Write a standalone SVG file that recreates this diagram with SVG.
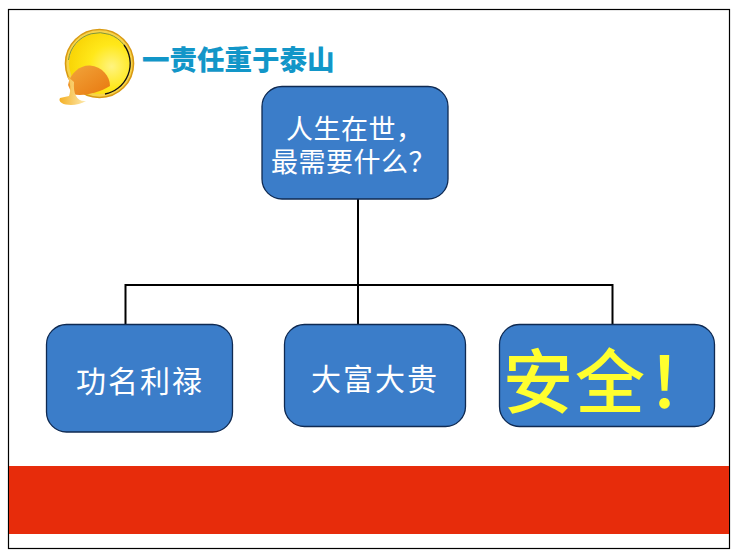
<svg xmlns="http://www.w3.org/2000/svg" width="738" height="558" viewBox="0 0 738 558">
<defs>
<radialGradient id="gold" cx="0.7" cy="0.55" r="0.8"><stop offset="0" stop-color="#fff480"/><stop offset="0.45" stop-color="#ffe81a"/><stop offset="1" stop-color="#f7cf00"/></radialGradient>
<linearGradient id="hat" x1="0" y1="0" x2="1" y2="1"><stop offset="0" stop-color="#f2a63c"/><stop offset="1" stop-color="#e8780f"/></linearGradient>
<linearGradient id="brim" x1="0" y1="0" x2="1" y2="0"><stop offset="0" stop-color="#f4b024"/><stop offset="1" stop-color="#fdeab0"/></linearGradient>
</defs>
<style>
.box{fill:#3b7dc9;stroke:#0f2a52;stroke-width:1.3}
.t{font-family:"Noto Sans CJK SC","Liberation Sans",sans-serif}
.w{fill:#fff}
.s{font-size:27px;letter-spacing:.5px}
.m{font-size:30px;letter-spacing:2px}
.c{fill:none;stroke:#000;stroke-width:2}
</style>
<rect width="738" height="558" fill="#fff"/>
<rect x="8.500" y="9.500" width="721" height="539" fill="#fff" stroke="#000" stroke-width="1.2"/>
<rect id="band" x="9" y="466" width="720" height="68" fill="#e72c0b"/>
<g id="logo">
<circle cx="99.500" cy="63.500" r="34" fill="#f7d34a" stroke="#d99a12" stroke-width="1.6"/>
<circle cx="99.500" cy="63.500" r="30.500" fill="url(#gold)"/>
<path d="M68.500 60A31 31 0 0 1 124 45" fill="none" stroke="#6f8f3a" stroke-width="0.9"/>
<path d="M124 45A31 31 0 0 1 105 94" fill="none" stroke="#111" stroke-width="1.3"/>
<path d="M68 85C70 73 80 65 90 65.500C102 66.500 110 76 110 86C100 92 84 97 72 94Z" fill="url(#hat)"/>
<path d="M67 76C71 82 71 91 69 96L60 98C56 105 75 108 86 101C77 102 73 94 74 82Z" fill="url(#brim)"/>
</g>
<g id="title"><text class="t" x="142" y="70" font-size="27.500" font-weight="900" fill="#1296c8">一责任重于泰山</text></g>
<g id="connectors">
<path class="c" d="M358 199V324M125.500 324V285H612.500V324"/>
</g>
<g id="n1"><rect class="box" x="262" y="86.500" width="186" height="112.500" rx="20"/>
<text class="t w s"><tspan x="286" y="139">人生在世，</tspan><tspan x="271" y="172">最需要什么？</tspan></text></g>
<g id="n2"><rect class="box" x="46.500" y="324.500" width="186" height="107.500" rx="20"/>
<text class="t w m" x="76" y="392">功名利禄</text></g>
<g id="n3"><rect class="box" x="284.500" y="324.500" width="181" height="102" rx="20"/>
<text class="t w m" x="311" y="390">大富大贵</text></g>
<g id="n4"><rect class="box" x="499.500" y="324.500" width="215" height="102" rx="20"/>
<text class="t" x="503" y="408" font-size="70" font-weight="500" letter-spacing="2" fill="#ffff2e">安全！</text></g>
</svg>
